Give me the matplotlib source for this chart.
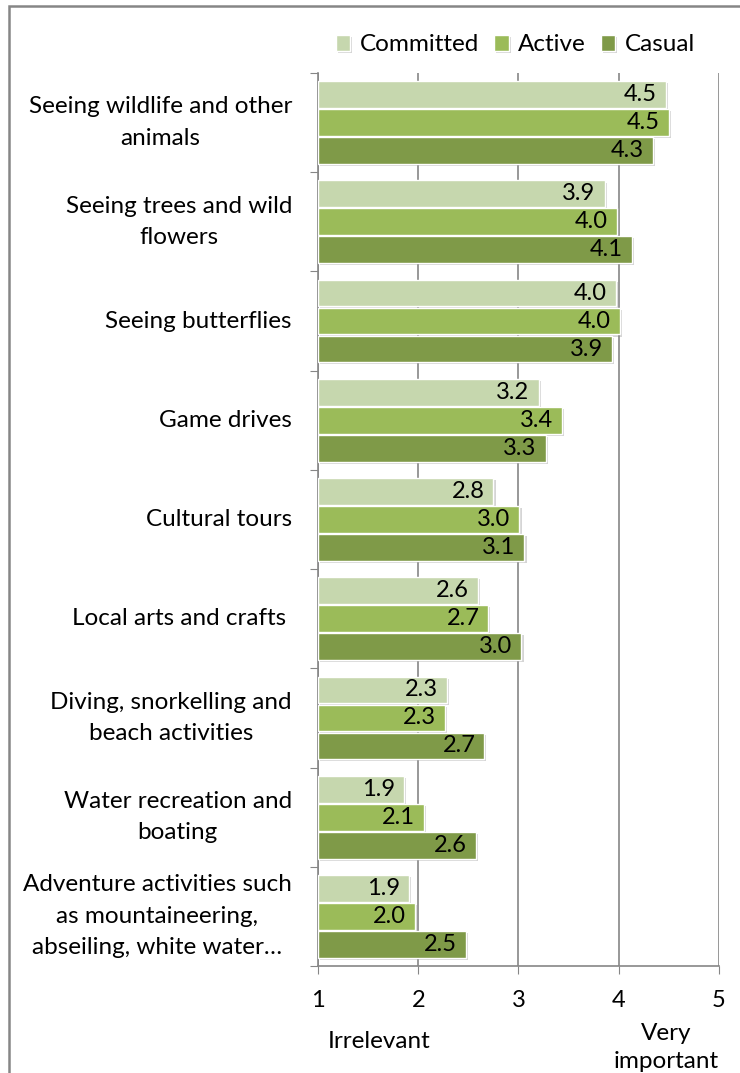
import numpy as np
import matplotlib
matplotlib.use('Agg')
import matplotlib.pyplot as plt
import matplotlib.patheffects as pe
from matplotlib.patches import Rectangle

plt.rcParams['font.family'] = ['Lato', 'DejaVu Sans']

activities = [
    'Seeing wildlife and other\nanimals',
    'Seeing trees and wild\nflowers',
    'Seeing butterflies',
    'Game drives',
    'Cultural tours',
    'Local arts and crafts ',
    'Diving, snorkelling and\nbeach activities',
    'Water recreation and\nboating',
    'Adventure activities such\nas mountaineering,\nabseiling, white water…',
]
committed = [4.47, 3.86, 3.97, 3.20, 2.75, 2.60, 2.29, 1.86, 1.91]
active = [4.50, 3.98, 4.01, 3.43, 3.01, 2.70, 2.27, 2.06, 1.97]
casual = [4.34, 4.13, 3.93, 3.27, 3.06, 3.03, 2.66, 2.58, 2.48]

series = [('Committed', committed, '#C6D7AE'),
          ('Active', active, '#9BBB59'),
          ('Casual', casual, '#7F9A48')]

fig = plt.figure(figsize=(7.4, 10.73), dpi=100)
ax = fig.add_axes([0.4297, 0.0997, 0.5419, 0.8323])

y = np.arange(len(activities))
step = 0.282
shadow = [pe.SimplePatchShadow(offset=(1.5, -1.5), shadow_rgbFace='#888888', alpha=0.35), pe.Normal()]
for k, (name, vals, col) in enumerate(series):
    pos = y + (k - 1) * step
    bars = ax.barh(pos, np.array(vals) - 1, left=1, height=0.27, color=col,
                   edgecolor='white', linewidth=1.0, label=name, zorder=3)
    for b in bars:
        b.set_path_effects(shadow)
    for p, v in zip(pos, vals):
        ax.annotate(f'{v:.1f}', xy=(v, p), xytext=(-6.5, 0), textcoords='offset points',
                    ha='right', va='center', fontsize=17, color='black', zorder=4)

ax.set_xlim(1, 5)
ax.set_ylim(len(activities) - 0.5, -0.5)
ax.set_xticks([1, 2, 3, 4, 5])
ax.set_xticklabels(['1', '2', '3', '4', '5'], fontsize=17)
ax.tick_params(axis='x', length=6, color='#868686', pad=11)
ax.grid(axis='x', color='#868686', linewidth=1.2, zorder=0)
ax.set_axisbelow(True)

ax.set_yticks(np.arange(len(activities) + 1) - 0.5)
ax.set_yticklabels([])
ax.tick_params(axis='y', length=6, color='#868686')
for i, lab in enumerate(activities):
    ax.text(-0.065, i, lab, transform=ax.get_yaxis_transform(), ha='right', va='center',
            multialignment='center', fontsize=17.5, linespacing=1.62)

for s in ['top', 'right']:
    ax.spines[s].set_visible(False)
for s in ['left', 'bottom']:
    ax.spines[s].set_color('#868686')
    ax.spines[s].set_linewidth(1.2)

fig.text(328 / 740, 0.029, 'Irrelevant', ha='left', va='center', fontsize=17.5)
fig.text(719 / 740, 0.024, 'Very\nimportant', ha='right', va='center', multialignment='center',
         fontsize=17.5, linespacing=1.4)

ax.legend(loc='center', bbox_to_anchor=(0.4925, 1 + 28 / 893), ncol=3, frameon=False,
          fontsize=17.5, handlelength=0.6, handleheight=0.6, handletextpad=0.4, columnspacing=0.6)

fig.patches.append(Rectangle((9 / 740, -0.1), 1.2, 0.9944 + 0.1, transform=fig.transFigure,
                             fill=False, edgecolor='#868686', linewidth=1.8))

fig.savefig('out.png', dpi=100)
